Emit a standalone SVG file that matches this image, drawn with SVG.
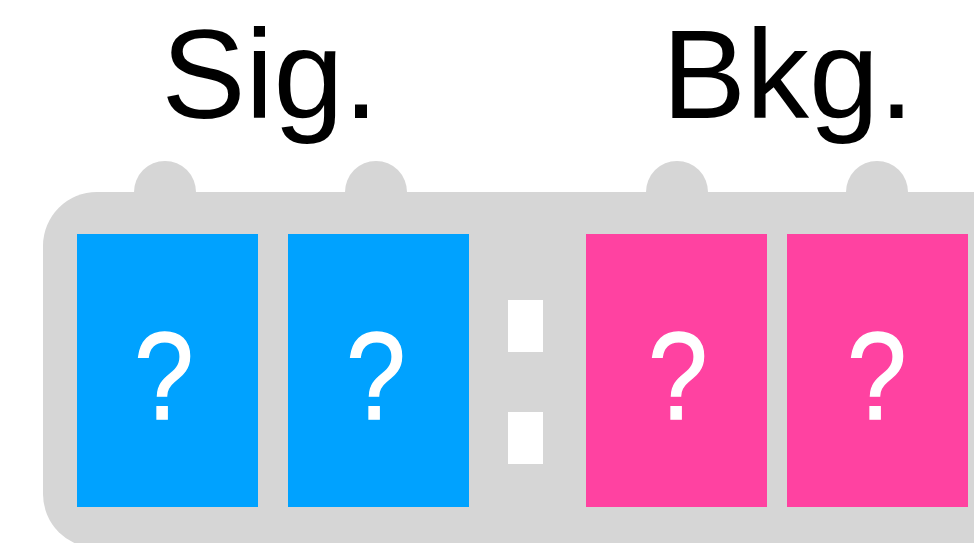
<svg xmlns="http://www.w3.org/2000/svg" width="974" height="543" viewBox="0 0 974 543">
<style>
.title{font-family:"Liberation Sans",Arial,sans-serif;font-size:126px;fill:#000;text-anchor:middle}
.q{font-family:"Liberation Sans",Arial,sans-serif;font-size:124px;fill:#fff;stroke:#fff;stroke-width:1.5;text-anchor:middle}
.gray{fill:#D6D6D6}
.sig{fill:#00A2FF}
.bkg{fill:#FF42A1}
.dot{fill:#fff}
</style>
<rect width="974" height="543" fill="#fff"/>
<g id="container">
<circle class="gray" cx="165" cy="192" r="31"/>
<circle class="gray" cx="376" cy="192" r="31"/>
<circle class="gray" cx="677" cy="192" r="31"/>
<circle class="gray" cx="877" cy="192" r="31"/>
<rect class="gray" x="43" y="192" width="1018" height="356" rx="54" ry="54"/>
</g>
<text id="label-sig" class="title" x="270" y="118">Sig.</text>
<text id="label-bkg" class="title" x="788" y="118">Bkg.</text>
<g id="sig1"><rect class="sig" x="77" y="234" width="181" height="273"/><text class="q" transform="translate(164 0) scale(0.86 1)" x="0" y="419">?</text></g>
<g id="sig2"><rect class="sig" x="288" y="234" width="181" height="273"/><text class="q" transform="translate(376 0) scale(0.86 1)" x="0" y="419">?</text></g>
<g id="sep"><rect class="dot" x="508" y="300" width="35" height="52"/><rect class="dot" x="508" y="412" width="35" height="52"/></g>
<g id="bkg1"><rect class="bkg" x="586" y="234" width="181" height="273"/><text class="q" transform="translate(678 0) scale(0.86 1)" x="0" y="419">?</text></g>
<g id="bkg2"><rect class="bkg" x="787" y="234" width="181" height="273"/><text class="q" transform="translate(877 0) scale(0.86 1)" x="0" y="419">?</text></g>
<g id="connectors"/>
</svg>
